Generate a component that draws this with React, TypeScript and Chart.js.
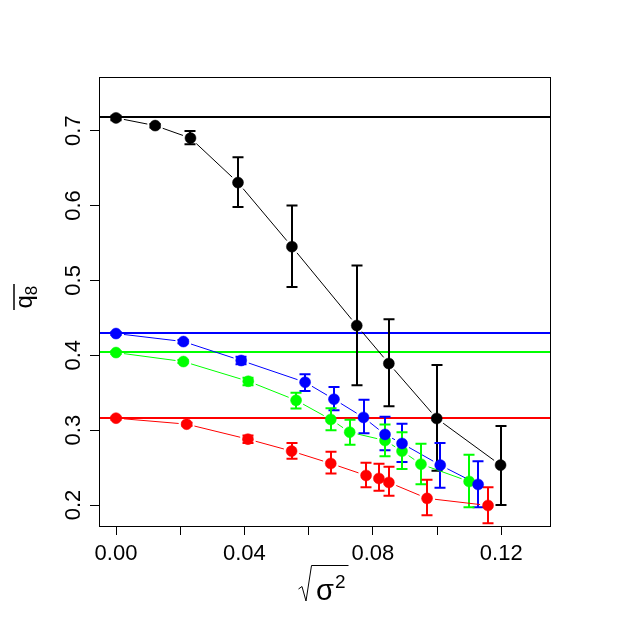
import { useEffect, useRef } from "react";
import { Chart, registerables } from "chart.js";

Chart.register(...registerables);

// x = sqrt(sigma^2), y = mean q8, with lower/upper error bar ends
const blackX = [0, 0.0122, 0.0232, 0.038, 0.0548, 0.075, 0.085, 0.0999, 0.1198];
const blackY = [0.717, 0.7067, 0.69, 0.6306, 0.545, 0.4397, 0.389, 0.3156, 0.2533];
const blackLo = [0.714, 0.704, 0.6817, 0.598, 0.491, 0.36, 0.332, 0.2457, 0.2];
const blackHi = [0.72, 0.709, 0.6995, 0.6644, 0.6, 0.52, 0.448, 0.387, 0.3057];

const blueX = [0, 0.021, 0.039, 0.0589, 0.0679, 0.0771, 0.0838, 0.0891, 0.101, 0.1128];
const blueY = [0.429, 0.4183, 0.393, 0.364, 0.3413, 0.317, 0.2943, 0.2822, 0.2533, 0.2275];
const blueLo = [0.427, 0.416, 0.388, 0.3523, 0.3266, 0.296, 0.2733, 0.2573, 0.223, 0.197];
const blueHi = [0.431, 0.4205, 0.398, 0.3746, 0.3577, 0.3405, 0.3178, 0.3084, 0.283, 0.2586];

const greenX = [0, 0.021, 0.0412, 0.0561, 0.0669, 0.0728, 0.0838, 0.0891, 0.095, 0.11];
const greenY = [0.4036, 0.3916, 0.3653, 0.3399, 0.3143, 0.2973, 0.2862, 0.272, 0.2546, 0.2315];
const greenLo = [0.4016, 0.3896, 0.36, 0.329, 0.3, 0.2804, 0.2653, 0.248, 0.2279, 0.197];
const greenHi = [0.4056, 0.3936, 0.37, 0.35, 0.3294, 0.3138, 0.3076, 0.2973, 0.2817, 0.267];

const redX = [0, 0.022, 0.0411, 0.0547, 0.0669, 0.0779, 0.0819, 0.085, 0.0969, 0.1159];
const redY = [0.316, 0.308, 0.288, 0.272, 0.2555, 0.2395, 0.2355, 0.2302, 0.2089, 0.1994];
const redLo = [0.314, 0.306, 0.283, 0.2617, 0.2422, 0.2239, 0.219, 0.2123, 0.1864, 0.1758];
const redHi = [0.318, 0.31, 0.293, 0.283, 0.271, 0.2563, 0.255, 0.251, 0.2336, 0.2239];

// horizontal reference levels
const refLevels = [0.718, 0.43, 0.404, 0.316];
const refColors = ["#000000", "#0000ff", "#00ff00", "#ff0000"];

const xTicks = [0, 0.02, 0.04, 0.06, 0.08, 0.1, 0.12];
const yTicks = [0.2, 0.3, 0.4, 0.5, 0.6, 0.7];

const FONT = "Arial, 'Liberation Sans', sans-serif";

const series = [
  { x: blackX, y: blackY, lo: blackLo, hi: blackHi, color: "#000000" },
  { x: blueX, y: blueY, lo: blueLo, hi: blueHi, color: "#0000ff" },
  { x: greenX, y: greenY, lo: greenLo, hi: greenHi, color: "#00ff00" },
  { x: redX, y: redY, lo: redLo, hi: redHi, color: "#ff0000" },
];

// draws the horizontal levels, the connecting lines (with gaps round the
// points, like R's type="b") and the error bars
const extrasPlugin = {
  id: "extras",
  beforeDatasetsDraw(chart: any) {
    const { ctx, chartArea: a, scales } = chart;
    const xs = scales.x;
    const ys = scales.y;
    ctx.save();
    refLevels.forEach((v, i) => {
      const py = Math.round(ys.getPixelForValue(v));
      ctx.strokeStyle = refColors[i];
      ctx.lineWidth = 2;
      ctx.beginPath();
      ctx.moveTo(a.left, py);
      ctx.lineTo(a.right, py);
      ctx.stroke();
    });
    const gap = 8;
    series.forEach((s) => {
      ctx.strokeStyle = s.color;
      ctx.lineWidth = 1;
      for (let i = 1; i < s.x.length; i++) {
        const x0 = xs.getPixelForValue(s.x[i - 1]);
        const y0 = ys.getPixelForValue(s.y[i - 1]);
        const x1 = xs.getPixelForValue(s.x[i]);
        const y1 = ys.getPixelForValue(s.y[i]);
        const len = Math.hypot(x1 - x0, y1 - y0);
        if (len <= 2 * gap) continue;
        const ux = (x1 - x0) / len;
        const uy = (y1 - y0) / len;
        ctx.beginPath();
        ctx.moveTo(x0 + ux * gap, y0 + uy * gap);
        ctx.lineTo(x1 - ux * gap, y1 - uy * gap);
        ctx.stroke();
      }
      ctx.lineWidth = 2;
      s.x.forEach((xv, i) => {
        const px = Math.round(xs.getPixelForValue(xv));
        const p1 = ys.getPixelForValue(s.lo[i]);
        const p2 = ys.getPixelForValue(s.hi[i]);
        ctx.beginPath();
        ctx.moveTo(px, p1);
        ctx.lineTo(px, p2);
        ctx.moveTo(px - 5.5, p1);
        ctx.lineTo(px + 5.5, p1);
        ctx.moveTo(px - 5.5, p2);
        ctx.lineTo(px + 5.5, p2);
        ctx.stroke();
      });
    });
    ctx.restore();
  },
  afterDraw(chart: any) {
    const { ctx, chartArea: a, scales } = chart;
    const ys = scales.y;
    ctx.save();
    ctx.strokeStyle = "#000";
    ctx.lineWidth = 1;
    ctx.strokeRect(a.left + 0.5, a.top + 0.5, a.right - a.left, a.bottom - a.top);
    ctx.fillStyle = "#000";
    // y tick labels, rotated like R
    ctx.font = `22px ${FONT}`;
    ctx.textAlign = "center";
    ctx.textBaseline = "alphabetic";
    yTicks.forEach((v) => {
      const py = ys.getPixelForValue(v);
      ctx.save();
      ctx.translate(80, py);
      ctx.rotate(-Math.PI / 2);
      ctx.fillText(v.toFixed(1), 0, 0);
      ctx.restore();
    });
    // x title: sqrt(sigma^2)
    ctx.textAlign = "left";
    ctx.font = `29px ${FONT}`;
    ctx.fillText("σ", 316, 600);
    const sw = ctx.measureText("σ").width;
    ctx.font = `19px ${FONT}`;
    ctx.fillText("2", 316 + sw + 1, 588);
    ctx.lineWidth = 1;
    ctx.beginPath();
    ctx.moveTo(298.5, 589);
    ctx.lineTo(302, 586.5);
    ctx.lineTo(306, 601);
    ctx.lineTo(311.5, 565.5);
    ctx.lineTo(348.5, 565.5);
    ctx.stroke();
    // y title: overline q with subscript 8
    ctx.save();
    ctx.translate(0, 297);
    ctx.rotate(-Math.PI / 2);
    ctx.font = `24px ${FONT}`;
    ctx.fillText("q", -11.5, 32);
    ctx.font = `17px ${FONT}`;
    ctx.fillText("8", 1.8, 37);
    ctx.lineWidth = 1.5;
    ctx.beginPath();
    ctx.moveTo(-13, 14);
    ctx.lineTo(13, 14);
    ctx.stroke();
    ctx.restore();
    ctx.restore();
  },
};

export default function App() {
  const canvasRef = useRef<HTMLCanvasElement>(null);

  useEffect(() => {
    if (!canvasRef.current) return;
    const chart = new Chart(canvasRef.current, {
      type: "scatter",
      data: {
        datasets: series.map((s) => ({
          data: s.x.map((xv, i) => ({ x: xv, y: s.y[i] })),
          showLine: false,
          backgroundColor: s.color,
          pointRadius: 5.5,
          pointBorderWidth: 0.5,
          pointBorderColor: s.color,
          pointBackgroundColor: s.color,
        })),
      },
      options: {
        animation: false,
        responsive: false,
        devicePixelRatio: 1,
        layout: { padding: { left: 0, top: 77, right: 77, bottom: 0 } },
        plugins: { legend: { display: false }, tooltip: { enabled: false } },
        scales: {
          x: {
            type: "linear",
            min: -0.0053,
            max: 0.1352,
            afterBuildTicks: (s: any) => {
              s.ticks = xTicks.map((v) => ({ value: v }));
            },
            afterFit: (s: any) => {
              s.height = 100;
            },
            grid: {
              drawOnChartArea: false,
              drawTicks: true,
              tickLength: 9,
              color: "#000",
            },
            border: { display: false },
            ticks: {
              color: "#000",
              font: { family: FONT, size: 22 },
              padding: 6,
              maxRotation: 0,
              autoSkip: false,
              callback: (v: any, i: number) => (i % 2 === 0 ? Number(v).toFixed(2) : ""),
            },
          },
          y: {
            type: "linear",
            min: 0.172,
            max: 0.7716,
            afterBuildTicks: (s: any) => {
              s.ticks = yTicks.map((v) => ({ value: v }));
            },
            afterFit: (s: any) => {
              s.width = 99;
            },
            grid: {
              drawOnChartArea: false,
              drawTicks: true,
              tickLength: 9,
              color: "#000",
            },
            border: { display: false },
            ticks: { display: false },
          },
        },
      },
      plugins: [extrasPlugin],
    });
    return () => chart.destroy();
  }, []);

  return (
    <div style={{ position: "absolute", left: 0, top: 0, width: 627, height: 626, background: "#fff" }}>
      <canvas ref={canvasRef} width={627} height={626} />
    </div>
  );
}
